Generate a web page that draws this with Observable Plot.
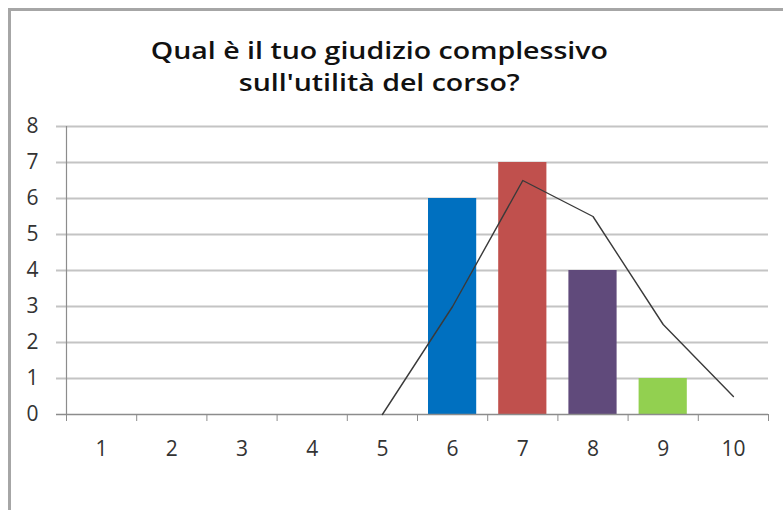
<!DOCTYPE html>
<html>
<head>
<meta charset="utf-8">
<script src="https://cdn.jsdelivr.net/npm/d3@7"></script>
<script src="https://cdn.jsdelivr.net/npm/@observablehq/plot@0.6"></script>
<style>
  html, body { margin: 0; padding: 0; background: #fff; }
  #wrap { position: relative; width: 783px; height: 510px; overflow: hidden; font-family: "Open Sans", sans-serif; }
  #frame { position: absolute; left: 8px; top: 8px; width: 900px; height: 700px; border-top: 3px solid #a6a6a6; border-left: 3px solid #a6a6a6; }
  #title { position: relative; height: 110px; box-sizing: border-box; padding-top: 34px; padding-right: 25px; text-align: center; font-size: 23px; font-weight: 600; line-height: 32px; color: #111; }
  #title span { display: inline-block; transform: scaleX(1.24); transform-origin: 50% 50%; white-space: nowrap; }
  #chart { position: relative; }
</style>
</head>
<body>
<div id="wrap">
  <div id="frame"></div>
  <div id="title"><span>Qual è il tuo giudizio complessivo<br>sull'utilità del corso?</span></div>
  <div id="chart"></div>
</div>
<script>
const categories = [1, 2, 3, 4, 5, 6, 7, 8, 9, 10];
const counts = [0, 0, 0, 0, 0, 6, 7, 4, 1, 0];
const trendCategories = [5, 6, 7, 8, 9, 10];
const trendValues = [0, 3, 6.5, 5.5, 2.5, 0.5];
const yTicks = [0, 1, 2, 3, 4, 5, 6, 7, 8];
const barColors = ["#0070C0", "#0070C0", "#0070C0", "#0070C0", "#0070C0", "#0070C0", "#C0504D", "#604A7B", "#92D050", "#92D050"];

const bars = categories.map((c, i) => ({cat: c, count: counts[i]})).filter(d => d.count > 0);
const trend = trendCategories.map((c, i) => ({cat: c, value: trendValues[i]}));
const boundaries = d3.range(0, categories.length + 1).map(i => categories[0] - 0.5 + i);

const chart = Plot.plot({
  width: 783,
  height: 400,
  marginTop: 16,
  marginBottom: 96,
  marginLeft: 66,
  marginRight: 15,
  style: {fontFamily: "'Open Sans', sans-serif", background: "transparent"},
  x: {type: "linear", domain: [categories[0] - 0.5, categories[categories.length - 1] + 0.5], axis: null, label: null},
  y: {domain: [0, 8], axis: null, label: null},
  color: {type: "ordinal", domain: categories, range: barColors},
  marks: [
    Plot.ruleY(yTicks.filter(v => v > 0), {y: d => d, stroke: "#c4c4c4", strokeWidth: 2, insetLeft: -10}),
    Plot.rectY(bars, {x1: d => d.cat - 0.5, x2: d => d.cat + 0.5, y1: 0, y2: "count", fill: "cat", insetLeft: 11, insetRight: 11}),
    Plot.ruleY([0], {y: d => d, stroke: "#8c8c8c", strokeWidth: 1.5, insetLeft: -10}),
    Plot.ruleX([boundaries[0]], {x: d => d, y1: 0, y2: 8, stroke: "#8c8c8c", strokeWidth: 1.2}),
    Plot.axisX({ticks: boundaries, tickSize: 7, tickFormat: () => "", stroke: "#8c8c8c", label: null}),
    Plot.axisX({ticks: categories, tickSize: 0, tickPadding: 27, fontSize: 21, fill: "#333", tickFormat: d => String(d), label: null}),
    Plot.axisY({ticks: yTicks, tickSize: 0, tickPadding: 28, fontSize: 21, fill: "#333", tickFormat: d => String(d), label: null}),
    Plot.line(trend, {x: "cat", y: "value", stroke: "#3a3a3a", strokeWidth: 1.4})
  ]
});
document.getElementById("chart").appendChild(chart);
</script>
</body>
</html>
